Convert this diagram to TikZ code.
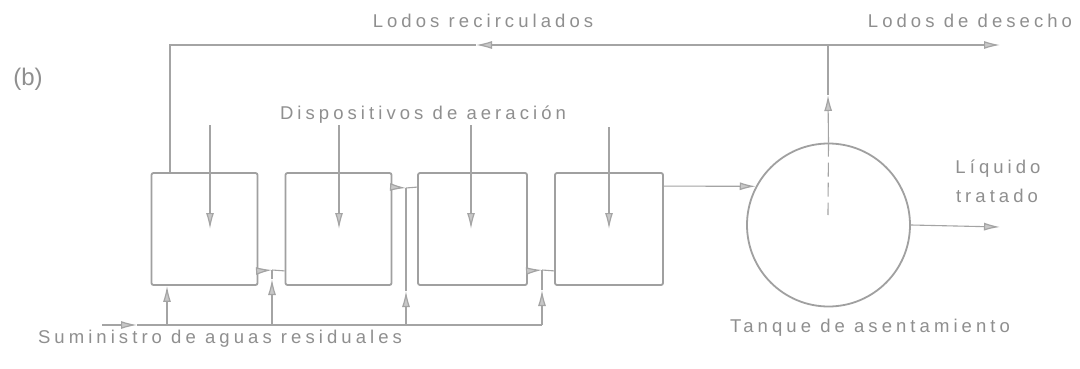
\documentclass[tikz,border=0pt]{standalone}
\usepackage{fontspec}
\setmainfont{Liberation Sans}
\newfontfamily\lblfont[LetterSpace=22]{Liberation Sans}
\usetikzlibrary{arrows.meta}
\definecolor{ln}{HTML}{A4A4A4}
\definecolor{tk}{HTML}{A0A0A0}
\definecolor{tx}{HTML}{8F8F8F}
\tikzset{
  tankbox/.style={draw=tk, line width=1.8pt, rounded corners=2pt, minimum width=106pt, minimum height=112pt, inner sep=0pt},
  settler/.style={draw=tk, line width=1.8pt, circle, minimum size=163pt, inner sep=0pt},
  pipe/.style={draw=ln, line width=1.1pt},
  arr/.style={pipe, -{Latex[length=16pt, width=8pt, fill=ln!60, line width=1.2pt]}},
  lbl/.style={text=tx, font=\lblfont\fontsize{18.5}{20}\selectfont, inner sep=0pt, anchor=base}
}
\begin{document}
\begin{tikzpicture}[x=1pt, y=-1pt]
\useasboundingbox[fill=white] (0,0) rectangle (1080,369);
% tanks
\node[tankbox] (T1) at (204.5,229) {};
\node[tankbox] (T2) at (338.5,229) {};
\node[tankbox, minimum width=109pt] (T3) at (472.5,229) {};
\node[tankbox, minimum width=108pt] (T4) at (609,229) {};
\node[settler] (C) at (828.5,225) {};
% coordinates
\coordinate (J) at (828,45);
\coordinate (R) at (170,45);
\coordinate (Rarr) at (476,45);
\coordinate (W) at (1000,45);
\coordinate (U) at (828,95);
\coordinate (D) at (828,215);
\coordinate (O) at (1000,227);
\coordinate (S) at (102,325);
\coordinate (Sa) at (137,325);
\coordinate (F1) at (167,325);
\coordinate (F2) at (272,325);
\coordinate (F3) at (406,325);
\coordinate (F4) at (542,325);
\coordinate (K1) at (272,270);
\coordinate (K2) at (406,188);
\coordinate (K3) at (542,270);
\coordinate (F2a) at (272,279);
\coordinate (F3a) at (406,291);
\coordinate (F4a) at (542,290);
\coordinate (A1) at (210,125);
\coordinate (A2) at (339,125);
\coordinate (A3) at (471,125);
\coordinate (A4) at (609,127);
% recirculation and waste
\draw[arr] (J) -- (Rarr);
\draw[pipe] (Rarr) -- (R) -- (R |- T1.north);
\draw[arr] (J) -- (W);
\draw[arr] (C.north) -- (U);
\draw[pipe] (U) -- (J);
\draw[pipe, dash pattern=on 14pt off 6pt] (C.north) -- (D);
\draw[arr] (C.east) -- (O);
% aeration devices
\draw[arr] (A1) -- (A1 |- T1.center);
\draw[arr] (A2) -- (A2 |- T2.center);
\draw[arr] (A3) -- (A3 |- T3.center);
\draw[arr] (A4) -- (A4 |- T4.center);
% tank to tank
\draw[arr] ([yshift=15pt]T1.south east) -- (K1);
\draw[pipe] (K1) -- ([yshift=15pt]T2.south west);
\draw[arr] ([yshift=-15pt]T2.north east) -- (K2);
\draw[pipe] (K2) -- ([yshift=-15pt]T3.north west);
\draw[arr] ([yshift=15pt]T3.south east) -- (K3);
\draw[pipe] (K3) -- ([yshift=15pt]T4.south west);
\draw[arr] ([yshift=-14pt]T4.north east) -- (C.152);
% feed
\draw[arr] (S) -- (Sa);
\draw[pipe] (Sa) -- (F4);
\draw[arr] (F1) -- (F1 |- T1.south);
\draw[arr] (F2) -- (F2a);
\draw[pipe] (F2a) -- (K1);
\draw[arr] (F3) -- (F3a);
\draw[pipe] (F3a) -- (K2);
\draw[arr] (F4) -- (F4a);
\draw[pipe] (F4a) -- (K3);
% labels
\node[lbl] (Lrec) at (483,28) {Lodos recirculados};
\node[lbl] (Ldes) at (970,28) {Lodos de desecho};
\node[text=tx, font=\fontsize{24}{26}\selectfont, inner sep=0pt, anchor=base] (Lb) at (28,85) {(b)};
\node[lbl] (Ldis) at (423,119) {Dispositivos de aeración};
\node[lbl] (Lsum) at (220,343) {Suministro de aguas residuales};
\node[lbl] (Ltan) at (870,332) {Tanque de asentamiento};
\node[lbl] (Lliq) at (998,173) {Líquido};
\node[lbl] (Ltra) at (997,202) {tratado};
\end{tikzpicture}
\end{document}
